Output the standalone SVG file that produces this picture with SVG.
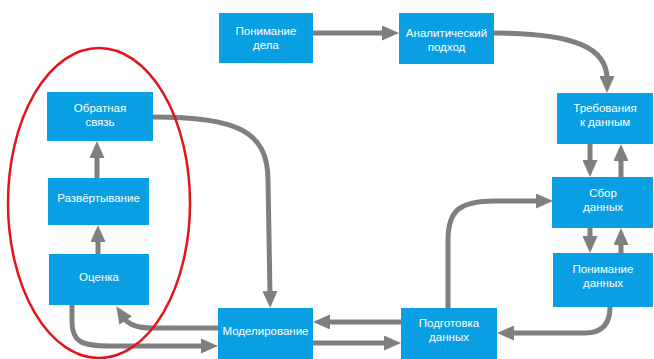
<svg xmlns="http://www.w3.org/2000/svg" width="654" height="359" viewBox="0 0 654 359">
<style>
.box{fill:#0a9fe2}
.t{font-family:"Liberation Sans",Arial,sans-serif;font-size:11.5px;fill:#ffffff;text-anchor:middle}
.c{fill:none;stroke:#7f7f7f;stroke-width:5;marker-end:url(#ah)}
</style>
<defs>
<marker id="ah" markerUnits="userSpaceOnUse" markerWidth="17" markerHeight="15" viewBox="0 0 17 15" refX="3" refY="7.5" orient="auto">
<path d="M0,0 L17,7.5 L0,15 z" fill="#7f7f7f"/>
</marker>
</defs>
<rect width="654" height="359" fill="#ffffff"/>
<g id="connectors">
<path class="c" d="M313,33 H385"/>
<path class="c" d="M494,33 C575,33 607,48 607,79"/>
<path class="c" d="M590,144 V163"/>
<path class="c" d="M621,177 V158"/>
<path class="c" d="M590,228 V239"/>
<path class="c" d="M621,253 V242"/>
<path class="c" d="M610,307 Q610,333 585,333 H511"/>
<path class="c" d="M448,308 V240 C448,210 460,201 495,201 H539"/>
<path class="c" d="M401,322 H327"/>
<path class="c" d="M313,343 H387"/>
<path class="c" d="M153,117 C235,117 268,130 268,180 L270,294"/>
<path class="c" d="M218,328 H152 C138,328 128,324 124,318"/>
<path class="c" d="M72,305 V322 C72,342 82,346 110,346 H204"/>
<path class="c" d="M98,254 V239"/>
<path class="c" d="M97,178 V155"/>
</g>
<g id="n-ponimanie-dela"><rect class="box" x="219" y="13" width="94" height="50"/><text class="t" x="266" y="35">Понимание</text><text class="t" x="266" y="49">дела</text></g>
<g id="n-analit"><rect class="box" x="399" y="13" width="95" height="51"/><text class="t" x="446.5" y="37">Аналитический</text><text class="t" x="446.5" y="51">подход</text></g>
<g id="n-treb"><rect class="box" x="557" y="93" width="96" height="51"/><text class="t" x="605" y="112">Требования</text><text class="t" x="605" y="126">к данным</text></g>
<g id="n-obr"><rect class="box" x="47" y="92" width="106" height="49"/><text class="t" x="100" y="112">Обратная</text><text class="t" x="100" y="126">связь</text></g>
<g id="n-razv"><rect class="box" x="48" y="178" width="101" height="47"/><text class="t" x="98.5" y="202">Развёртывание</text></g>
<g id="n-ocenka"><rect class="box" x="49" y="254" width="100" height="51"/><text class="t" x="99" y="281">Оценка</text></g>
<g id="n-model"><rect class="box" x="218" y="308" width="95" height="52"/><text class="t" x="265.5" y="335">Моделирование</text></g>
<g id="n-podg"><rect class="box" x="401" y="308" width="96" height="52"/><text class="t" x="449" y="327">Подготовка</text><text class="t" x="449" y="341">данных</text></g>
<g id="n-sbor"><rect class="box" x="552" y="177" width="101" height="51"/><text class="t" x="603" y="197">Сбор</text><text class="t" x="603" y="211">данных</text></g>
<g id="n-ponim-dann"><rect class="box" x="553" y="253" width="100" height="54"/><text class="t" x="603" y="273">Понимание</text><text class="t" x="603" y="287">данных</text></g>
<ellipse id="highlight" cx="99" cy="203" rx="91" ry="155" fill="none" stroke="#e3141b" stroke-width="2.5"/>
</svg>
